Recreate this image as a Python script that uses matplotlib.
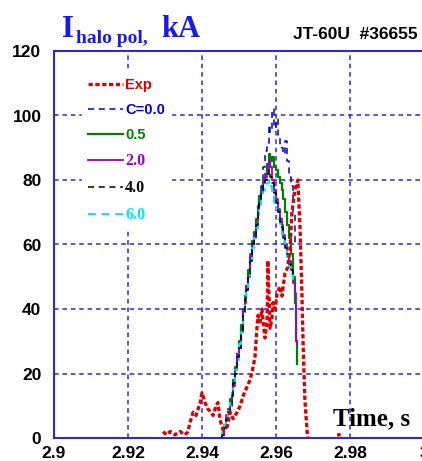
import numpy as np
import matplotlib
matplotlib.use("Agg")
import matplotlib.pyplot as plt

# ---------------- data ----------------
t_rise = [2.9450, 2.9455, 2.9460, 2.9465, 2.9470, 2.9475, 2.9480, 2.9485, 2.9490,
          2.9495, 2.9500, 2.9505, 2.9510, 2.9515, 2.9520, 2.9525, 2.9530, 2.9535,
          2.9540, 2.9545, 2.9550, 2.9555, 2.9560, 2.9565]

t_c00 = t_rise + [2.9570, 2.9575, 2.9580, 2.9585, 2.9590, 2.9595, 2.9600, 2.9605,
                  2.9610, 2.9615, 2.9620, 2.9625, 2.9630, 2.9635, 2.9640, 2.9645, 2.9650]
v_c00 = [0, 1, 3, 6, 8, 11, 13, 17, 21, 25, 28, 34, 40, 43, 46, 51, 56, 60, 63, 67,
         71, 74, 78, 84, 89, 91, 97, 95, 102, 96, 99, 94, 91, 90, 88, 92, 86, 81, 78, 70, 60]

t_c05 = t_rise + [2.9570, 2.9575, 2.9580, 2.9585, 2.9590, 2.9595, 2.9600, 2.9605,
                  2.9610, 2.9615, 2.9620, 2.9625, 2.9630, 2.9635, 2.9640, 2.9645,
                  2.9650, 2.9655, 2.9658]
v_c05 = [0, 1, 4, 6, 9, 12, 14, 18, 22, 26, 30, 35, 40, 44, 47, 52, 56, 61, 64, 68,
         72, 75, 77, 80, 82, 85, 88, 86, 87, 84, 83, 81, 79, 77, 74, 70, 66, 62, 57,
         50, 42, 30, 23]

t_c20 = t_rise + [2.9570, 2.9575, 2.9580, 2.9585, 2.9590, 2.9595, 2.9600, 2.9605,
                  2.9610, 2.9615, 2.9620, 2.9625, 2.9630, 2.9635, 2.9640, 2.9645,
                  2.9650, 2.9655, 2.9657]
v_c20 = [0, 1, 3, 7, 8, 11, 14, 16, 21, 26, 28, 33, 40, 42, 47, 50, 57, 60, 63, 66,
         71, 73, 76, 79, 81, 83, 86, 84, 80, 77, 74, 71, 68, 66, 63, 60, 57, 55, 52,
         48, 45, 30, 29]

t_c40 = t_rise + [2.9570, 2.9575, 2.9580, 2.9585, 2.9590, 2.9595, 2.9600, 2.9605,
                  2.9610, 2.9615, 2.9620, 2.9625, 2.9630, 2.9635, 2.9640, 2.9645]
v_c40 = [0, 1, 3, 6, 8, 10, 13, 17, 20, 25, 28, 33, 39, 43, 46, 50, 55, 60, 62, 66,
         70, 73, 76, 78, 80, 82, 83, 81, 79, 76, 73, 70, 67, 65, 62, 59, 57, 54, 52, 50]

t_c60 = t_rise + [2.9570, 2.9575, 2.9580, 2.9585, 2.9590, 2.9595, 2.9600, 2.9605,
                  2.9610, 2.9615, 2.9620, 2.9625, 2.9630, 2.9635, 2.9640, 2.9645]
v_c60 = [0, 2, 4, 6, 9, 11, 14, 17, 21, 24, 29, 33, 39, 42, 46, 50, 55, 59, 62, 65,
         69, 72, 75, 77, 78, 79, 80, 78, 76, 73, 71, 68, 66, 63, 61, 58, 56, 53, 51, 49]

t_exp = [2.9295, 2.9303, 2.9314, 2.9327, 2.9341, 2.9354, 2.9362, 2.9368, 2.9376,
         2.9384, 2.9395, 2.9400, 2.9408, 2.9416, 2.9424, 2.9430, 2.9438, 2.9443,
         2.9449, 2.9457, 2.9468, 2.9476, 2.9484, 2.9495, 2.9503, 2.9511, 2.9522,
         2.9530, 2.9538, 2.9543, 2.9551, 2.9557, 2.9562, 2.9570, 2.9576, 2.9578,
         2.9584, 2.9589, 2.9592, 2.9597, 2.9603, 2.9611, 2.9616, 2.9624, 2.9632,
         2.9638, 2.9643, 2.9651, 2.9659, 2.9665, 2.9670, 2.9673, 2.9678, 2.9684,
         2.9686, np.nan, 2.9765, 2.9775]
v_exp = [2, 1, 2, 1, 2, 1, 2, 5, 8, 7, 11, 14, 11, 9, 8, 7, 10, 11, 5.5, 2.5, 3.5,
         8, 6, 8, 10, 13, 16, 18, 22, 25, 38, 36, 40, 31, 36, 55, 34, 37, 42, 39, 45,
         47, 44, 51, 53, 59, 70, 77, 80, 65, 45, 30, 12, 2, 0, np.nan, 1, 1]

series_labels = ["Exp", "C=0.0", "0.5", "2.0", "4.0", "6.0"]
x_ticks = [2.9, 2.92, 2.94, 2.96, 2.98, 3.0]
x_ticklabels = ["2.9", "2.92", "2.94", "2.96", "2.98", "3"]
y_ticks = [0, 20, 40, 60, 80, 100, 120]

# ---------------- figure ----------------
W, H = 422, 461
fig = plt.figure(figsize=(W / 100, H / 100), dpi=100)
fig.patch.set_facecolor("white")

ax_l, ax_r, ax_t, ax_b = 54, 424, 51, 438
ax = fig.add_axes([ax_l / W, 1 - ax_b / H, (ax_r - ax_l) / W, (ax_b - ax_t) / H])

blue = "#2a2ad6"
sans = ["Liberation Sans", "DejaVu Sans"]
serif = ["Liberation Serif", "DejaVu Serif"]

l_exp, = ax.plot(t_exp, v_exp, color="#dd0000", lw=2.4, linestyle=(0, (1.3, 0.75)),
                 zorder=6, label=series_labels[0])
l0, = ax.plot(t_c00, v_c00, color="#0000cc", lw=1.1, linestyle=(0, (4, 3)),
              drawstyle="steps-post", zorder=3, label=series_labels[1])
l1, = ax.plot(t_c05, v_c05, color="#008000", lw=1.6, drawstyle="steps-post",
              zorder=3, label=series_labels[2])
l2, = ax.plot(t_c20, v_c20, color="#9a00cc", lw=1.3, drawstyle="steps-post",
              zorder=4, label=series_labels[3])
l3, = ax.plot(t_c40, v_c40, color="black", lw=1.1, linestyle=(0, (4, 3)),
              drawstyle="steps-post", zorder=5, label=series_labels[4])
l4, = ax.plot(t_c60, v_c60, color="#00e8f0", lw=1.4, linestyle=(0, (4, 3)),
              drawstyle="steps-post", zorder=4, label=series_labels[5])

ax.set_xlim(2.9, 3.0)
ax.set_ylim(0, 120)
ax.set_xticks(x_ticks)
ax.set_xticklabels(x_ticklabels)
ax.set_yticks(y_ticks)
ax.tick_params(axis="both", length=0, labelsize=12.5)
ax.tick_params(axis="x", pad=6)
ax.tick_params(axis="y", pad=9)
for lab in ax.get_xticklabels() + ax.get_yticklabels():
    lab.set_fontfamily(sans)
    lab.set_fontweight("bold")

ax.grid(True, color=blue, lw=1.1, linestyle=(0, (3, 2.5)))
ax.set_axisbelow(True)
for side in ["left", "bottom", "top", "right"]:
    ax.spines[side].set_color(blue)
    ax.spines[side].set_linewidth(1.5)

leg = ax.legend(handles=[l_exp, l0, l1, l2, l3, l4], loc="upper left",
                bbox_to_anchor=((82 - ax_l) / (ax_r - ax_l), 1 - (72 - ax_t) / (ax_b - ax_t)),
                borderaxespad=0, frameon=True, fancybox=False, edgecolor="white",
                facecolor="white", framealpha=1.0, handlelength=2.4, handletextpad=0.15,
                labelspacing=0.76, prop={"family": sans, "weight": "bold", "size": 10.5},
                labelcolor="linecolor", borderpad=0.4)
leg.set_zorder(10)
for i, txt in enumerate(leg.get_texts()):
    if i >= 3:
        txt.set_fontfamily(serif)
        txt.set_fontsize(11.5)

# titles
def ftext(x, y, s, **kw):
    fig.text(x / W, 1 - y / H, s, **kw)

ftext(62, 37, "I", family=serif, weight="bold", size=22, color="#1a1ae6", va="baseline")
ftext(76, 43, "halo pol,", family=serif, weight="bold", size=14, color="#1a1ae6", va="baseline")
ftext(161, 37, "kA", family=serif, weight="bold", size=22, color="#1a1ae6", va="baseline")
ftext(418, 39, "JT-60U  #36655", family=sans, weight="bold", size=12.5, color="black",
      va="baseline", ha="right")

ax.text((410 - ax_l) / (ax_r - ax_l), 1 - (425 - ax_t) / (ax_b - ax_t), "Time, s",
        transform=ax.transAxes, family=serif, weight="bold", size=18, ha="right",
        va="baseline", color="black", zorder=11)

fig.savefig("out.png", dpi=100)
